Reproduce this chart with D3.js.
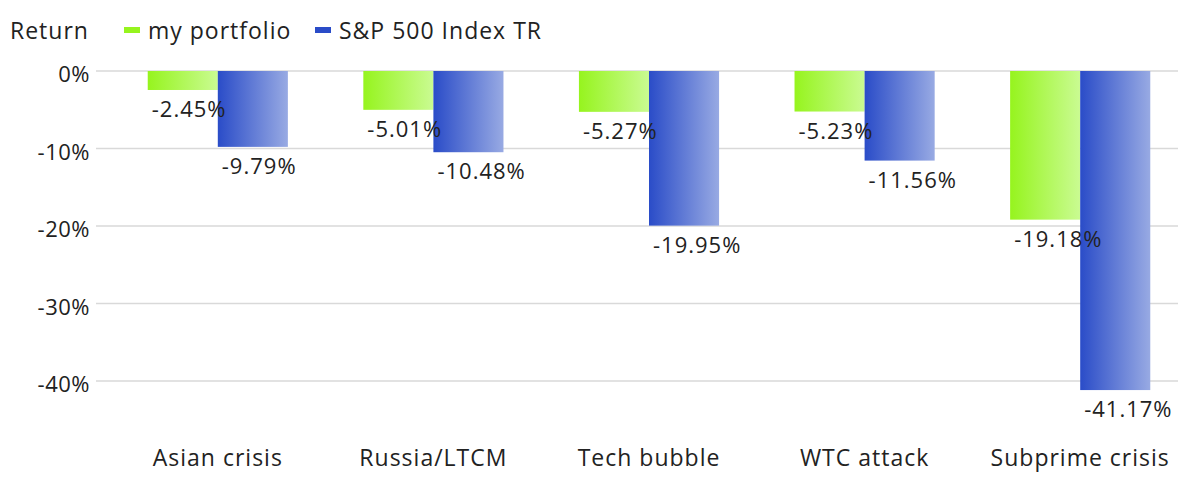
<!DOCTYPE html>
<html>
<head>
<meta charset="utf-8">
<script src="https://cdn.jsdelivr.net/npm/d3@7"></script>
<style>
  body { margin: 0; background: #fff; }
  text { font-family: "Open Sans", sans-serif; fill: #222; }
</style>
</head>
<body>
<script>
var categories = ["Asian crisis", "Russia/LTCM", "Tech bubble", "WTC attack", "Subprime crisis"];
var seriesNames = ["my portfolio", "S&P 500 Index TR"];
var portfolio = [-2.45, -5.01, -5.27, -5.23, -19.18];
var sp500 = [-9.79, -10.48, -19.95, -11.56, -41.17];
var yTicks = [0, -10, -20, -30, -40];

const WIDTH = 1200;
const HEIGHT = 484;

var data = categories.map((c, i) => ({ cat: c, values: [portfolio[i], sp500[i]] }));

// scales
var x0 = d3.scaleBand()
    .domain(categories)
    .range([110, 1188])
    .paddingInner(0.35)
    .paddingOuter(0.175);

var x1 = d3.scaleBand()
    .domain(seriesNames)
    .range([0, x0.bandwidth()]);

var yScale = d3.scaleLinear()
    .domain([0, -40])
    .range([71, 381]);

var svg = d3.select("body")
    .append("svg")
    .attr("width", WIDTH)
    .attr("height", HEIGHT);

// gradients
var defs = svg.append("defs");
var gradColors = [["#96f41e", "#cafb92"], ["#2a4cc8", "#98aae3"]];
gradColors.forEach((g, i) => {
    var lg = defs.append("linearGradient")
        .attr("id", "grad" + i)
        .attr("x1", "0%").attr("x2", "100%")
        .attr("y1", "0%").attr("y2", "0%");
    lg.append("stop").attr("offset", "0%").attr("stop-color", g[0]);
    lg.append("stop").attr("offset", "100%").attr("stop-color", g[1]);
});

// grid lines
svg.append("g")
    .selectAll("line")
    .data(yTicks)
    .enter()
    .append("line")
    .attr("x1", 96)
    .attr("x2", 1178)
    .attr("y1", d => yScale(d))
    .attr("y2", d => yScale(d))
    .attr("stroke", "#d9d9d9")
    .attr("stroke-width", 1.5);

// y axis labels
svg.append("g")
    .selectAll("text")
    .data(yTicks)
    .enter()
    .append("text")
    .attr("x", 90)
    .attr("y", d => yScale(d) + 11)
    .attr("text-anchor", "end")
    .attr("font-size", "22px")
    .attr("letter-spacing", "0.5px")
    .text(d => d + "%");

// bars
var groups = svg.selectAll(".grp")
    .data(data)
    .enter()
    .append("g")
    .attr("class", "grp")
    .attr("transform", d => `translate(${x0(d.cat)},0)`);

groups.selectAll("rect")
    .data(d => d.values.map((v, i) => ({ v: v, s: seriesNames[i], i: i })))
    .enter()
    .append("rect")
    .attr("x", d => x1(d.s))
    .attr("y", yScale(0))
    .attr("width", x1.bandwidth())
    .attr("height", d => yScale(d.v) - yScale(0))
    .attr("fill", d => `url(#grad${d.i})`);

groups.selectAll("text")
    .data(d => d.values.map((v, i) => ({ v: v, s: seriesNames[i], i: i })))
    .enter()
    .append("text")
    .attr("x", d => x1(d.s) + 4)
    .attr("y", d => yScale(d.v) + 27)
    .attr("font-size", "22px")
    .attr("letter-spacing", "1px")
    .text(d => d.v.toFixed(2) + "%");

// category axis
svg.append("g")
    .attr("transform", "translate(0,466)")
    .call(d3.axisBottom(x0).tickSize(0).tickPadding(0))
    .call(g => g.select(".domain").remove())
    .selectAll("text")
    .attr("dy", 0)
    .attr("font-size", "23px")
    .attr("letter-spacing", "1px")
    .style("font-family", "'Open Sans', sans-serif")
    .style("fill", "#222");

// legend
var legend = svg.append("g");
legend.append("text")
    .attr("x", 10).attr("y", 39)
    .attr("font-size", "23px")
    .attr("letter-spacing", "1px")
    .text("Return");

var legX = [124, 315];
seriesNames.forEach((s, i) => {
    legend.append("rect")
        .attr("x", legX[i]).attr("y", 27)
        .attr("width", 16).attr("height", 6)
        .attr("fill", gradColors[i][0]);
    legend.append("text")
        .attr("x", legX[i] + 24).attr("y", 39)
        .attr("font-size", "23px")
        .attr("letter-spacing", "1px")
        .text(s);
});
</script>
</body>
</html>
